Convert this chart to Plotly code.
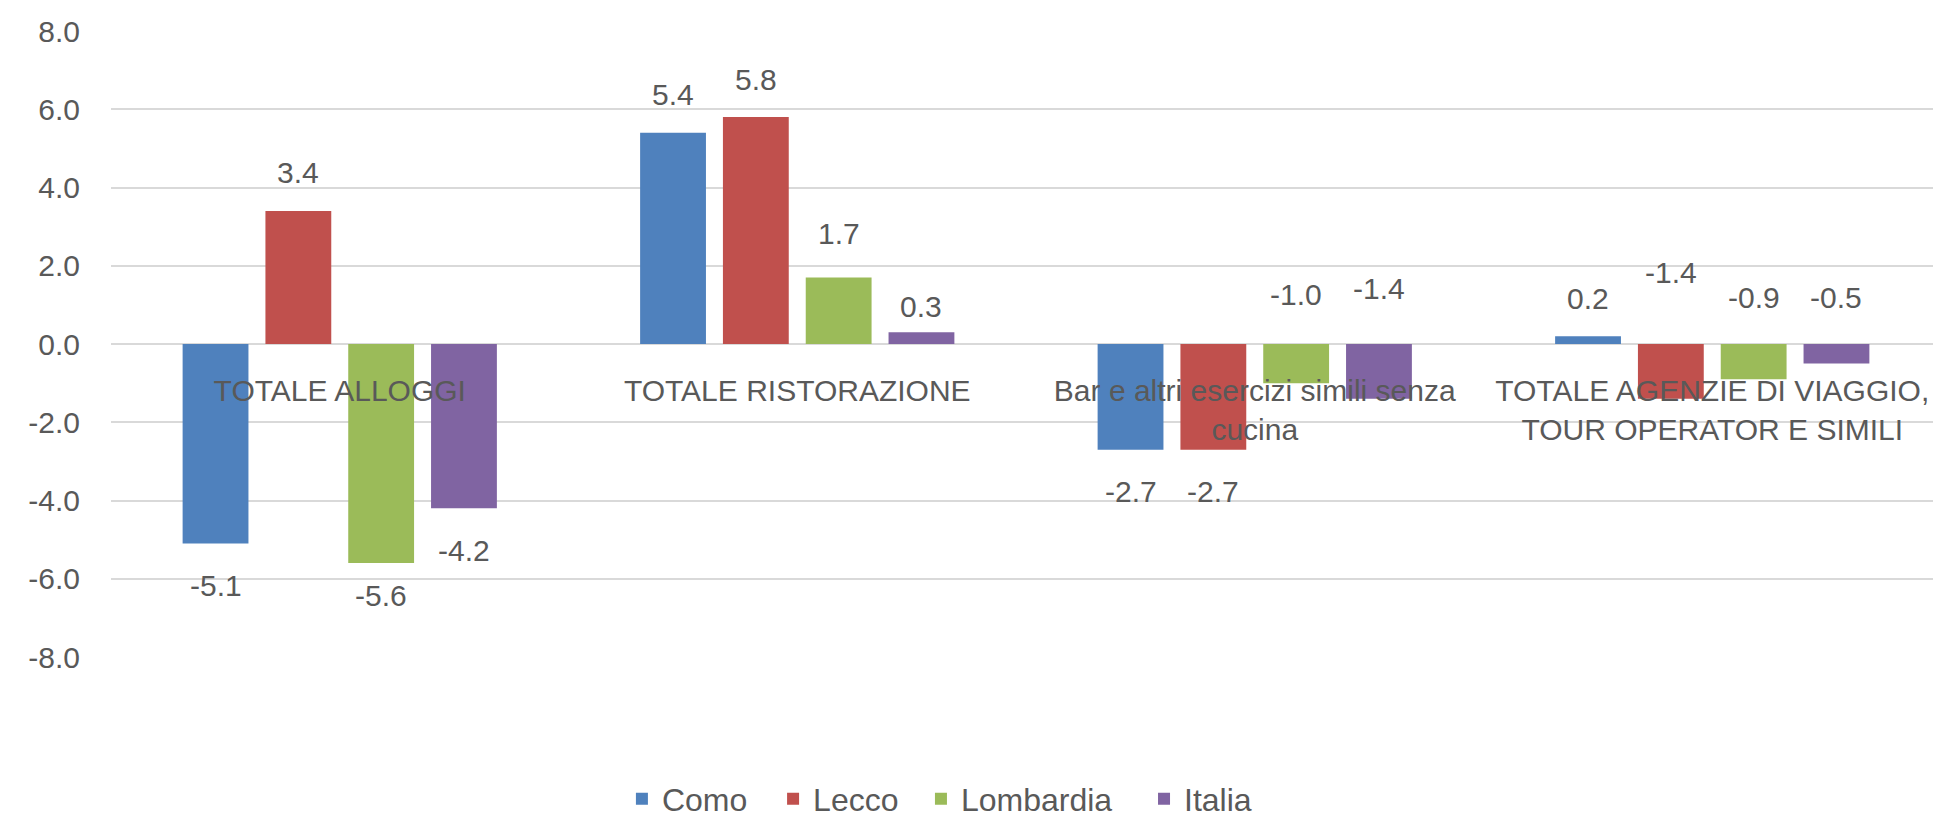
import plotly.graph_objects as go

categories = [
    "TOTALE ALLOGGI",
    "TOTALE RISTORAZIONE",
    "Bar e altri esercizi simili senza<br>cucina",
    "TOTALE AGENZIE DI VIAGGIO,<br>TOUR OPERATOR E SIMILI",
]
series_names = ["Como", "Lecco", "Lombardia", "Italia"]
como = [-5.1, 5.4, -2.7, 0.2]
lecco = [3.4, 5.8, -2.7, -1.4]
lombardia = [-5.6, 1.7, -1.0, -0.9]
italia = [-4.2, 0.3, -1.4, -0.5]
y_ticks = [-8, -6, -4, -2, 0, 2, 4, 6, 8]
y_tick_labels = [f"{v:.1f}" for v in y_ticks]

values = [como, lecco, lombardia, italia]
colors = ["#4F81BD", "#C0504D", "#9BBB59", "#8064A2"]

# label placement style: (series, category) -> ("base"|"end", yshift in px)
label_override = {
    (2, 0): ("end", -32),
    (2, 1): ("end", 44),
    (3, 1): ("end", 26),
    (2, 2): ("base", 50),
    (3, 2): ("base", 56),
    (1, 3): ("base", 72),
    (2, 3): ("base", 47),
    (3, 3): ("base", 47),
}
# legend entry positions (container fraction), one legend per series
legend_x = [0.3176, 0.3958, 0.4723, 0.5877]

FONT = "Liberation Sans, Arial, sans-serif"
TXT = "#595959"
FS = 30
BARGAP = 0.276
fig = go.Figure()
legend_ids = ["legend", "legend2", "legend3", "legend4"]
for name, vals, col, lid in zip(series_names, values, colors, legend_ids):
    fig.add_trace(go.Bar(name=name, x=categories, y=vals, marker_color=col,
                         marker_line_width=0, legend=lid))

slot = (1 - BARGAP) / len(series_names)
for j, vals in enumerate(values):
    for i, v in enumerate(vals):
        mode, shift = label_override.get((j, i), ("end", 38 if v >= 0 else -42))
        fig.add_annotation(
            x=i + (j - (len(series_names) - 1) / 2) * slot,
            y=0 if mode == "base" else v,
            yshift=shift, text=f"{v:.1f}", showarrow=False,
            xanchor="center", yanchor="middle",
            font=dict(family=FONT, size=FS, color=TXT),
        )

legend_style = dict(orientation="h", xref="container", yref="container",
                    y=0.027, xanchor="left", yanchor="middle",
                    bgcolor="rgba(0,0,0,0)",
                    font=dict(family=FONT, size=32, color=TXT))
fig.update_layout(
    width=1933, height=813,
    margin=dict(l=103, r=0, t=23, b=164, autoexpand=False),
    paper_bgcolor="white", plot_bgcolor="white",
    barmode="group", bargap=BARGAP, bargroupgap=0.205,
    font=dict(family=FONT, size=FS, color=TXT),
    showlegend=True,
)
for lid, lx in zip(legend_ids, legend_x):
    fig.update_layout({lid: dict(legend_style, x=lx)})

fig.update_yaxes(range=[-8, 8], tickvals=y_ticks, ticktext=y_tick_labels,
                 automargin=False,
                 showgrid=True, gridcolor="#d9d9d9", gridwidth=2,
                 zeroline=True, zerolinecolor="#d9d9d9", zerolinewidth=2,
                 showline=False, ticks="", ticklabelstandoff=30,
                 tickfont=dict(family=FONT, size=FS, color=TXT))
fig.update_xaxes(anchor="free", position=0.5, showline=False, ticks="",
                 automargin=False,
                 showgrid=False, ticklabelstandoff=26,
                 tickfont=dict(family=FONT, size=FS, color=TXT))

fig.write_html("out.html")
